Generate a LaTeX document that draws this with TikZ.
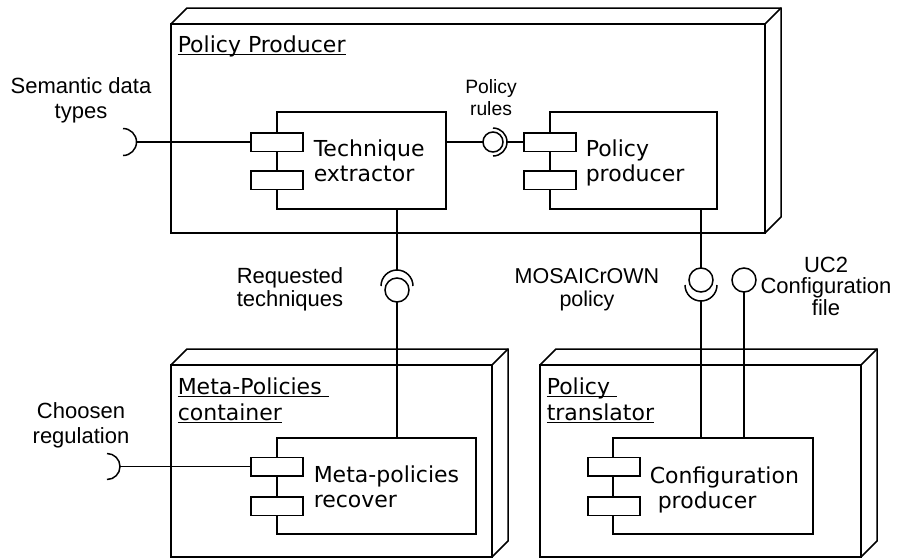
\documentclass[tikz,border=0pt]{standalone}
\usepackage{fontspec}
\setmainfont{DejaVu Sans}
\newfontfamily\lblfont{Liberation Sans}
\usetikzlibrary{calc}
\newsavebox\myulbox
\newcommand{\myul}[1]{\sbox\myulbox{#1}\rlap{\rule[-3.3pt]{\wd\myulbox}{1.6pt}}\usebox\myulbox}
\begin{document}
\begin{tikzpicture}[x=1pt,y=-1pt,line width=1.5pt,
  front/.style={draw,inner sep=0pt,outer sep=0pt},
  comp/.style={draw,fill=white,inner sep=0pt,outer sep=0pt},
  port/.style={draw,fill=white,inner sep=0pt,outer sep=0pt,minimum width=52pt,minimum height=18.5pt},
  ball/.style={draw,fill=white,circle,inner sep=0pt,outer sep=0pt},
  lbl/.style={font=\lblfont\fontsize{22}{25}\selectfont,align=center,inner sep=0pt,anchor=base},
  ctxt/.style={font=\fontsize{22}{25.5}\selectfont,align=left,inner sep=0pt,anchor=base west},
  ntxt/.style={font=\fontsize{22}{26}\selectfont,align=left,inner sep=0pt,anchor=base west}]
\useasboundingbox (0,0) rectangle (911,558);

% ---- 3D nodes
\node[front,minimum width=594pt,minimum height=209pt] (pp) at (468,128.5) {};
\draw (pp.north west) -- ++(16,-16) -- ($(pp.north east)+(16,-16)$) -- ($(pp.south east)+(16,-16)$) -- (pp.south east);
\draw (pp.north east) -- ++(16,-16);

\node[front,minimum width=321pt,minimum height=192pt] (mc) at (331.5,461) {};
\draw (mc.north west) -- ++(16,-16) -- ($(mc.north east)+(16,-16)$) -- ($(mc.south east)+(16,-16)$) -- (mc.south east);
\draw (mc.north east) -- ++(16,-16);

\node[front,minimum width=321pt,minimum height=192pt] (pt) at (700.5,461) {};
\draw (pt.north west) -- ++(16,-16) -- ($(pt.north east)+(16,-16)$) -- ($(pt.south east)+(16,-16)$) -- (pt.south east);
\draw (pt.north east) -- ++(16,-16);

\node[ntxt] (ppl) at (177,52) {\myul{Policy Producer}};
\node[ntxt] (mcl) at (177,420) {\myul{Meta-Policies\ }\\\myul{container}};
\node[ntxt] (ptl) at (546,420) {\myul{Policy\ }\\\myul{translator}};

% ---- components
\node[comp,minimum width=169pt,minimum height=97pt] (te) at (361.5,160.5) {};
\node[port] (te1) at (277,142) {};
\node[port] (te2) at (277,180) {};
\node[ctxt] (tet) at (313,181.5) {Technique\\extractor};

\node[comp,minimum width=167pt,minimum height=97pt] (pc) at (633.5,160.5) {};
\node[port] (pc1) at (550,142) {};
\node[port] (pc2) at (550,180) {};
\node[ctxt] (pct) at (585,181.5) {Policy\\producer};

\node[comp,minimum width=199pt,minimum height=96pt] (mr) at (376.5,486) {};
\node[port] (mr1) at (277,466.5) {};
\node[port] (mr2) at (277,506) {};
\node[ctxt] (mrt) at (313,507.5) {Meta-policies\\recover};

\node[comp,minimum width=200pt,minimum height=96pt] (cp) at (713,486) {};
\node[port] (cp1) at (614,466.5) {};
\node[port] (cp2) at (614,506) {};
\node[ctxt] (cpt) at (649,508.5) {Configuration\\\hspace*{8pt}producer};

% ---- interfaces
% Semantic data types (required)
\coordinate (sdc) at (123,142);
\coordinate (sdr) at (136.5,142);
\draw ($(sdc)+(0,-13.5)$) arc[start angle=-90,end angle=90,radius=13.5];
\draw (sdr) -- (te1.west);
\node[lbl] (sdl) at (81,118) {Semantic data\\types};

% Choosen regulation (required)
\coordinate (crc) at (107,466.5);
\coordinate (crr) at (120,466.5);
\draw ($(crc)+(0,-13)$) arc[start angle=-90,end angle=90,radius=13];
\draw (crr) -- (mr1.west);
\node[lbl] (crl) at (81,443) {Choosen\\regulation};

% Policy rules
\node[ball,minimum size=20pt] (prb) at (493,142) {};
\draw ($(prb)+(0,-14)$) arc[start angle=-90,end angle=90,radius=14];
\coordinate (prr) at (507,142);
\draw (te.east |- prb) -- (prb.west);
\draw (prr) -- (pc1.west);
\node[lbl,font=\lblfont\fontsize{19.3}{22}\selectfont] (prl) at (491,115) {Policy\\rules};

% Requested techniques
\node[ball,minimum size=24pt] (rtb) at (397,290) {};
\coordinate (rtc) at (397,286);
\coordinate (rtt) at (397,270);
\draw ($(rtc)+(-16,0)$) arc[start angle=180,end angle=360,radius=16];
\draw (rtb |- te.south) -- (rtt);
\draw (rtb.south) -- (rtb |- mr.north);
\node[lbl,font=\lblfont\fontsize{22}{22.5}\selectfont] (rtl) at (290,306) {Requested\\techniques};

% MOSAICrOWN policy
\node[ball,minimum size=24pt] (mob) at (701,280) {};
\coordinate (moc) at (701,285);
\coordinate (mobt) at (701,301);
\draw ($(moc)+(-16,0)$) arc[start angle=180,end angle=0,radius=16];
\draw (mob |- pc.south) -- (mob.north);
\draw (mobt) -- (mob |- cp.north);
\node[lbl,font=\lblfont\fontsize{21.5}{22.5}\selectfont] (mol) at (587,306) {MOSAICrOWN\\policy};

% UC2 Configuration file
\node[ball,minimum size=24pt] (ucb) at (744,280) {};
\draw (ucb.south) -- (ucb |- cp.north);
\node[lbl,font=\lblfont\fontsize{22}{21.5}\selectfont] (ucl) at (826,315) {UC2\\Configuration\\file};
\end{tikzpicture}
\end{document}
